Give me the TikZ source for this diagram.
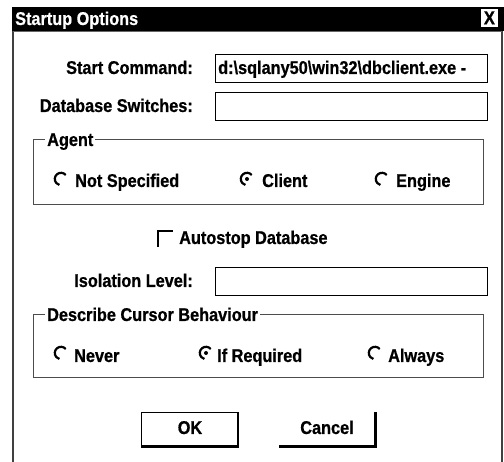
\documentclass[tikz,border=0pt]{standalone}
\usepackage{fontspec}
\setmainfont{Liberation Sans}[FakeStretch=0.88, BoldFeatures={FakeBold=0.7}]
\begin{document}
\begin{tikzpicture}[x=1pt,y=-1pt,
  ui/.style={font=\bfseries\fontsize{18.5}{18.5}\selectfont, inner sep=0pt},
  lbl/.style={ui, anchor=base east},
  txt/.style={ui, anchor=base west},
  grouplbl/.style={ui, anchor=base west, fill=white, inner xsep=2pt},
  field/.style={draw=black, line width=1pt, anchor=north west, inner sep=0pt},
  group/.style={draw=black!70, line width=1pt},
  radioarc/.style={line width=2.2pt, black}
]
\useasboundingbox (0,0) rectangle (504,462);
\fill[white] (0,0) rectangle (504,462);

% window frame and title bar
\node[fill=black, anchor=north west, minimum width=492pt, minimum height=24pt, inner sep=0pt] (title) at (12,7) {};
\node[ui, text=white, anchor=base west] (titletext) at (15,25) {Startup Options};
\node[fill=white, draw=black, line width=0.8pt, anchor=north west, minimum width=18pt, minimum height=19pt, inner sep=0pt,
      font=\bfseries\fontsize{19}{19}\selectfont] (closebtn) at (480,8) {X};
\draw[black!75, line width=2pt] (13,31) -- (13,462);
\draw[black!75, line width=1.5pt] (502,31) -- (502,462);
\draw[black!60, line width=1pt] (13,31.5) -- (502,31.5);

% text fields
\node[lbl] (startlbl) at (193,74) {Start Command:};
\node[field, minimum width=272pt, minimum height=28pt] (startfield) at (215,54) {};
\node[ui, anchor=base west] (startval) at (218,74) {d:\textbackslash sqlany50\textbackslash win32\textbackslash dbclient.exe -};

\node[lbl] (switchlbl) at (193,112) {Database Switches:};
\node[field, minimum width=272pt, minimum height=28pt] (switchfield) at (215,92) {};

% Agent group
\draw[group] (33,140) rectangle (483,205);
\node[grouplbl] (agentlbl) at (45,146) {Agent\hspace{6pt}};

% radio buttons
\newcommand{\radiobtn}[3]{%
  \draw[radioarc] ([shift={(-40:6.2)}]#1,#2) arc[start angle=-40, end angle=-255, radius=6.2];
  \ifnum#3=1 \fill (#1,#2) circle[radius=2]; \fi}

\radiobtn{61}{179}{0}
\node[txt] (agentnone) at (75,187) {Not Specified};
\radiobtn{247}{179}{1}
\node[txt] (agentclient) at (262,187) {Client};
\radiobtn{382}{179}{0}
\node[txt] (agentengine) at (396,187) {Engine};

% checkbox
\draw[line width=2pt] (158,247) -- (158,231) -- (173,231);
\node[txt] (autostop) at (179,244) {Autostop Database};

\node[lbl] (isolbl) at (193,287) {Isolation Level:};
\node[field, minimum width=272pt, minimum height=28pt] (isofield) at (215,267) {};

% Describe Cursor Behaviour group
\draw[group] (33,315) rectangle (483,378);
\node[grouplbl] (cursorlbl) at (45,321) {Describe Cursor Behaviour\hspace{6pt}};

\radiobtn{61}{353}{0}
\node[txt] (never) at (74,362) {Never};
\radiobtn{206}{353}{1}
\node[txt] (ifreq) at (217,362) {If Required};
\radiobtn{375}{353}{0}
\node[txt] (always) at (388,362) {Always};

% buttons
\node[draw=black, line width=1pt, anchor=north west, minimum width=97pt, minimum height=33pt, inner sep=0pt] (okbtn) at (141,412) {};
\draw[line width=2.5pt] ([xshift=-1pt]okbtn.north east) -- ([xshift=-1pt,yshift=-1pt]okbtn.south east) -- ([yshift=-1pt]okbtn.south west);
\node[ui, anchor=base] (oktext) at (190,434) {OK};
\node[anchor=north west, minimum width=97pt, minimum height=33pt, inner sep=0pt] (cancelbtn) at (279,412) {};
\draw[line width=2.5pt] ([xshift=-1pt]cancelbtn.north east) -- ([xshift=-1pt,yshift=-1pt]cancelbtn.south east) -- ([yshift=-1pt]cancelbtn.south west);
\node[ui, anchor=base] (canceltext) at (327,434) {Cancel};
\end{tikzpicture}
\end{document}
